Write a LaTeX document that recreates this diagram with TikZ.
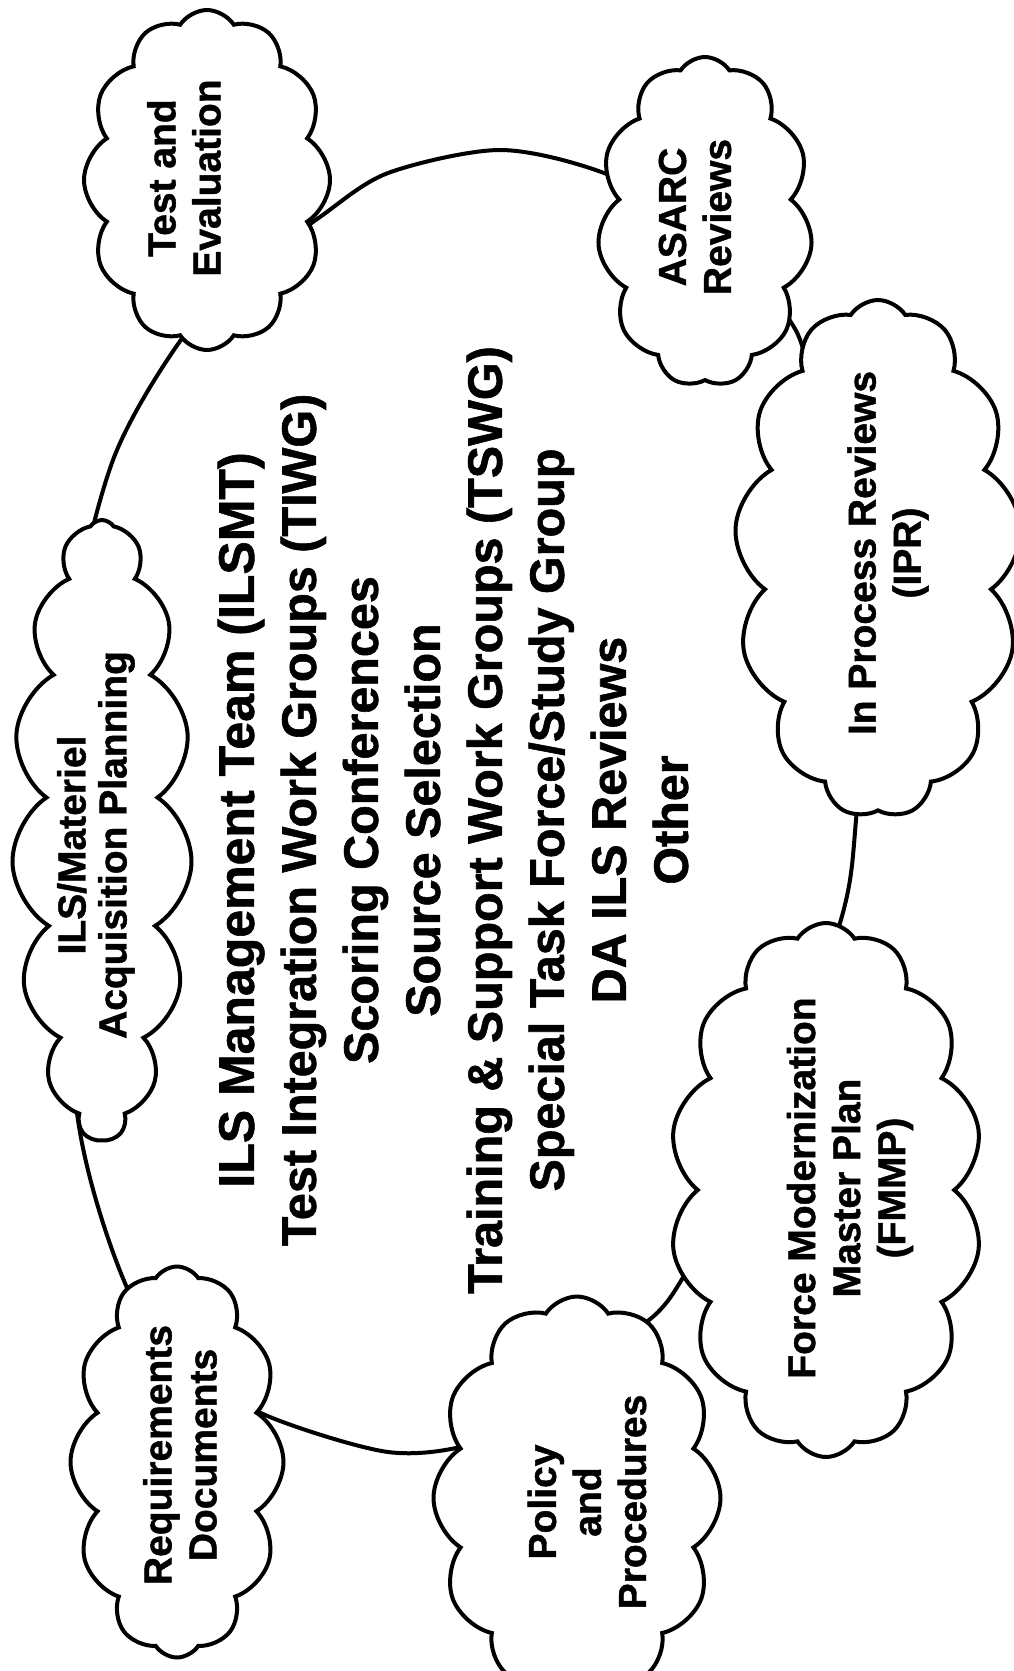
\documentclass[tikz,border=0pt]{standalone}
\usepackage{fontspec}
\setmainfont{Liberation Sans}[BoldFeatures={FakeBold=1.2}]
\usetikzlibrary{shapes.symbols}

\begin{document}
\begin{tikzpicture}[
  x=1pt, y=-1pt,
  puff/.style={cloud, cloud ignores aspect, cloud puff arc=115, draw, fill=white, line width=4pt, inner sep=0pt},
  tag/.style={rotate=90, align=center, font=\bfseries\fontsize{39}{45}\selectfont},
  loopline/.style={line width=4pt, line join=round}
]
  \useasboundingbox (0,0) rectangle (1013,1671);
  \fill[white] (0,0) rectangle (1013,1671);

  % the big loop behind the clouds
  \draw[loopline] plot[smooth cycle] coordinates {
    (183,337) (113,460) (70,640) (62,840) (78,1120) (128,1290) (190,1370)
    (270,1417) (388,1452) (472,1444) (550,1405) (610,1346) (672,1295)
    (770,1110) (840,923) (856,820) (866,620) (812,383) (786,315)
    (700,225) (604,173) (500,150) (388,173) (320,217) (250,270)};

  % clouds round it
  \node[puff, cloud puffs=12, minimum width=246pt, minimum height=340pt] (TE) at (207,180) {};
  \node[puff, cloud puffs=11, minimum width=215pt, minimum height=330pt] (AR) at (705,222) {};
  \node[puff, cloud puffs=13, minimum width=287pt, minimum height=518pt] (IPR) at (878,559) {};
  \node[puff, cloud puffs=15, minimum width=180pt, minimum height=620pt] (ILS) at (102,830) {};
  \node[puff, cloud puffs=14, minimum width=313pt, minimum height=534pt] (FM) at (826,1190) {};
  \node[puff, cloud puffs=12, minimum width=213pt, minimum height=391pt] (RD) at (177,1462) {};
  \node[puff, cloud puffs=12, minimum width=287pt, minimum height=403pt] (PP) at (577,1498) {};

  \node[tag] (TEl) at (184,178) {Test and\\Evaluation};
  \node[tag] (ARl) at (695,217) {ASARC\\Reviews};
  \node[tag] (IPRl) at (888,553) {In Process Reviews\\(IPR)};
  \node[tag, font=\bfseries\fontsize{39}{41}\selectfont] (ILSl) at (96,845) {ILS/Materiel\\Acquisition Planning};
  \node[tag] (FMl) at (850,1188) {Force Modernization\\Master Plan\\(FMMP)};
  \node[tag] (RDl) at (180,1455) {Requirements\\Documents};
  \node[tag] (PPl) at (587,1502) {Policy\\and\\Procedures};

  % what goes on inside the loop
  \node[rotate=90, align=center, font=\bfseries\fontsize{48.5}{62}\selectfont] (C) at (453,820)
    {{\fontsize{50}{62}\selectfont ILS Management Team (ILSMT)}\\
     Test Integration Work Groups (TIWG)\\
     Scoring Conferences\\
     Source Selection\\
     Training \& Support Work Groups (TSWG)\\
     Special Task Force/Study Group\\
     DA ILS Reviews\\
     Other};
\end{tikzpicture}
\end{document}
